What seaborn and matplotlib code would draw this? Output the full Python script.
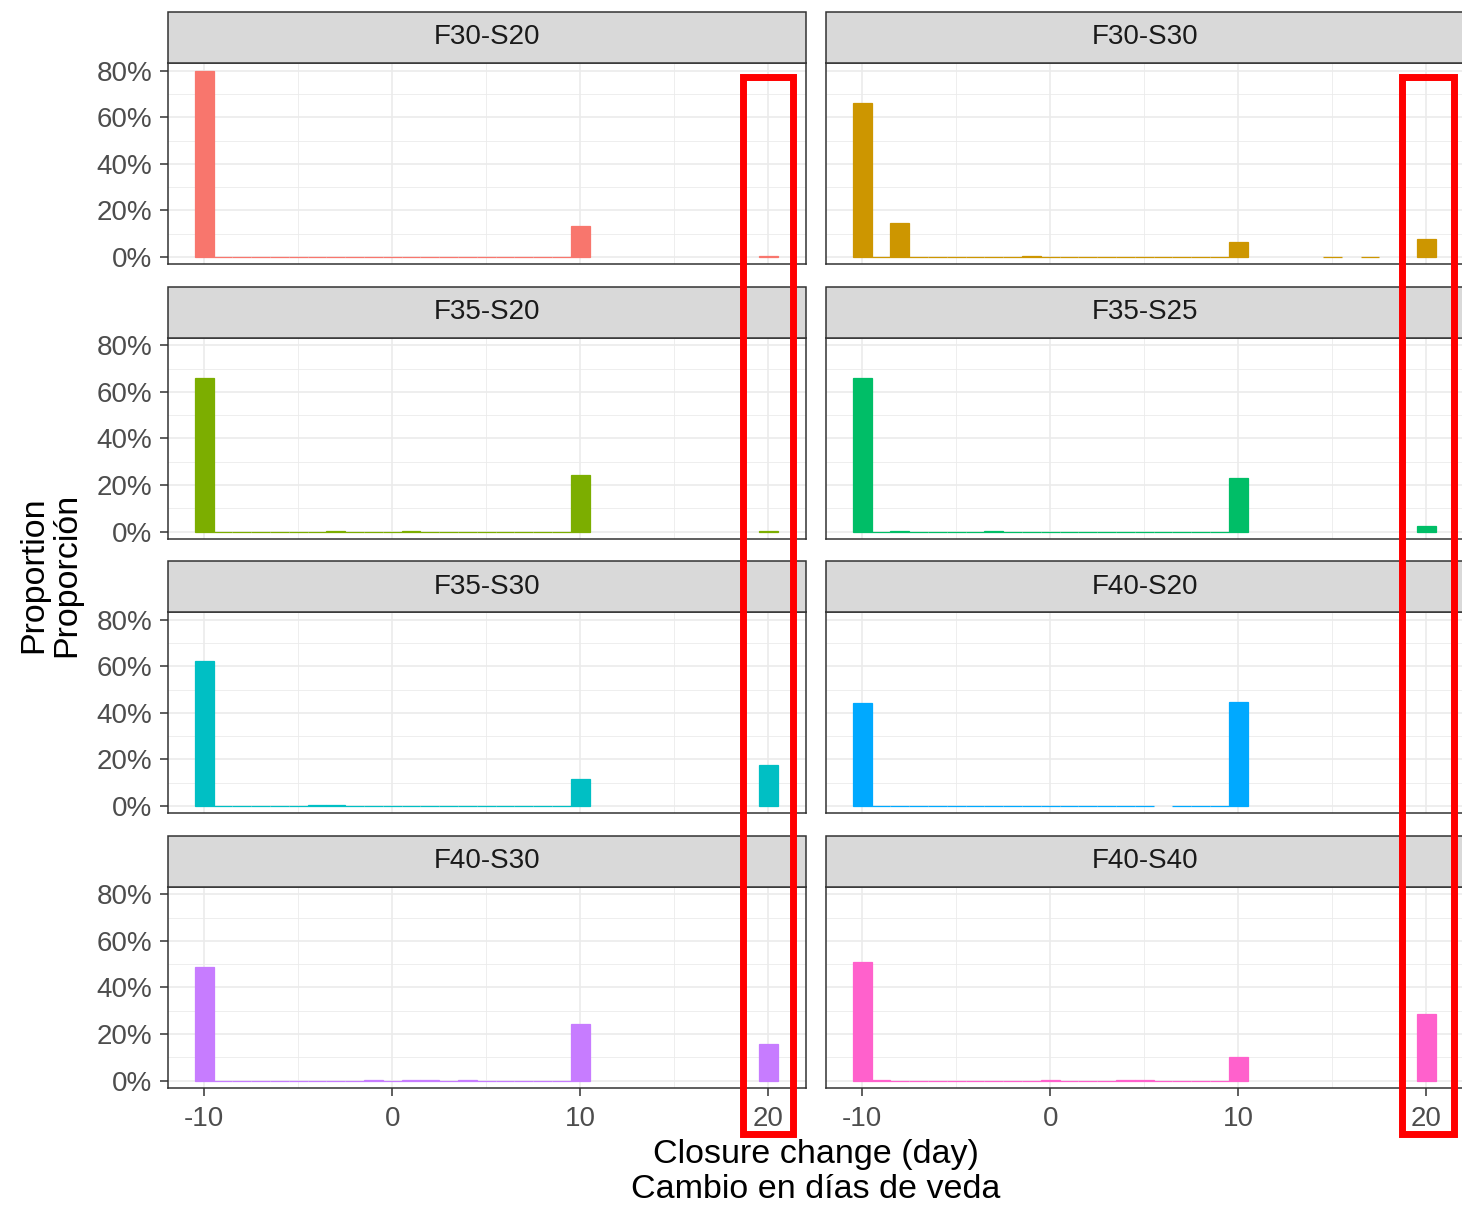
import numpy as np
import pandas as pd
import matplotlib
matplotlib.use("Agg")
import matplotlib.pyplot as plt
from matplotlib.patches import Rectangle
from matplotlib.ticker import FuncFormatter
import seaborn as sns

# ---------------------------------------------------------------------------
# Data: proportion (%) of simulations per closure change (days), by scenario
# ---------------------------------------------------------------------------
SCENARIOS = ["F30-S20", "F30-S30", "F35-S20", "F35-S25",
             "F35-S30", "F40-S20", "F40-S30", "F40-S40"]
COLORS = ["#F8766D", "#CD9600", "#7CAE00", "#00BE67",
          "#00BFC4", "#00A9FF", "#C77CFF", "#FF61CC"]

# bins that are present (possibly empty) in every scenario
SHARED_DAYS = list(range(-10, 11))

F30_S20_DAY = [-10, 10, 20]
F30_S20_PCT = [80.0, 13.3, 0.3]

F30_S30_DAY = [-10, -8, -1, 10, 15, 17, 20]
F30_S30_PCT = [66.2, 14.6, 0.3, 6.4, 0.1, 0.1, 7.9]

F35_S20_DAY = [-10, -3, 1, 10, 20]
F35_S20_PCT = [66.2, 0.2, 0.1, 24.5, 0.2]

F35_S25_DAY = [-10, -8, -3, 10, 20]
F35_S25_PCT = [66.2, 0.2, 0.2, 22.8, 2.2]

F35_S30_DAY = [-10, -4, -3, 10, 20]
F35_S30_PCT = [62.4, 0.3, 0.3, 11.6, 17.6]

F40_S20_DAY = [-10, 6, 10]
F40_S20_PCT = [44.3, np.nan, 44.5]

F40_S30_DAY = [-10, -1, 1, 2, 4, 10, 20]
F40_S30_PCT = [49.0, 0.2, 0.2, 0.2, 0.2, 24.1, 15.9]

F40_S40_DAY = [-10, -9, 0, 4, 5, 10, 20]
F40_S40_PCT = [50.8, 0.2, 0.2, 0.2, 0.2, 10.3, 28.8]

DAYS = [F30_S20_DAY, F30_S30_DAY, F35_S20_DAY, F35_S25_DAY,
        F35_S30_DAY, F40_S20_DAY, F40_S30_DAY, F40_S40_DAY]
PCTS = [F30_S20_PCT, F30_S30_PCT, F35_S20_PCT, F35_S25_PCT,
        F35_S30_PCT, F40_S20_PCT, F40_S30_PCT, F40_S40_PCT]

rows = []
for name, days, pcts in zip(SCENARIOS, DAYS, PCTS):
    values = {d: 0.0 for d in SHARED_DAYS}
    values.update(dict(zip(days, pcts)))
    for d in sorted(values):
        if not np.isnan(values[d]):
            rows.append({"scenario": name, "day": d, "pct": values[d]})
df = pd.DataFrame(rows)

# ---------------------------------------------------------------------------
# Styling
# ---------------------------------------------------------------------------
sns.set_style("white")
plt.rcParams["font.family"] = ["Liberation Sans", "DejaVu Sans"]
plt.rcParams["axes.unicode_minus"] = False

W, H = 1462, 1205
fig = plt.figure(figsize=(W / 100, H / 100), dpi=100)

PANEL_W, PANEL_H = 638, 201
COL_X = [168, 826]
ROW_TOP = [63 + i * 274.5 for i in range(4)]
STRIP_H = 51

BORDER = "#333333"
TICK_LABEL = "#4D4D4D"
GRID = "#EBEBEB"


def pct_fmt(v, _):
    return f"{int(round(v))}%"


for i, (name, color) in enumerate(zip(SCENARIOS, COLORS)):
    r, c = divmod(i, 2)
    x0 = COL_X[c]
    top = ROW_TOP[r]
    ax = fig.add_axes([x0 / W, 1 - (top + PANEL_H) / H, PANEL_W / W, PANEL_H / H])
    sub = df[df["scenario"] == name]
    sns.barplot(data=sub, x="day", y="pct", native_scale=True, width=1.0,
                color=color, saturation=1, edgecolor=color, linewidth=0.9,
                errorbar=None, ax=ax)

    ax.set_xlim(-11.92, 22.0)
    ax.set_ylim(-3.0, 83.4)
    ax.set_xticks([-10, 0, 10, 20])
    ax.set_xticks([-5, 5, 15], minor=True)
    ax.set_yticks([0, 20, 40, 60, 80])
    ax.set_yticks([10, 30, 50, 70], minor=True)
    ax.yaxis.set_major_formatter(FuncFormatter(pct_fmt))
    ax.set_axisbelow(True)
    ax.grid(which="major", color=GRID, linewidth=1.2)
    ax.grid(which="minor", color=GRID, linewidth=0.6)
    ax.set_xlabel("")
    ax.set_ylabel("")
    for sp in ax.spines.values():
        sp.set_visible(True)
        sp.set_color(BORDER)
        sp.set_linewidth(1.1)

    ax.tick_params(axis="both", which="major", length=5.5, width=1.1,
                   color=BORDER, labelcolor=TICK_LABEL, labelsize=20)
    ax.tick_params(axis="y", which="major", pad=6)
    ax.tick_params(axis="x", which="major", pad=7.5)
    ax.tick_params(axis="both", which="minor", length=0)
    ax.tick_params(axis="y", left=(c == 0), labelleft=(c == 0))
    ax.tick_params(axis="x", bottom=(r == 3), labelbottom=(r == 3))

    # facet strip
    ax.add_patch(Rectangle((0, 1), 1, STRIP_H / PANEL_H, transform=ax.transAxes,
                           facecolor="#D9D9D9", edgecolor=BORDER, linewidth=1.1,
                           clip_on=False, zorder=3))
    ax.text(0.5, 1 + STRIP_H / PANEL_H / 2, name, transform=ax.transAxes,
            ha="center", va="center", fontsize=20, color="#1A1A1A", zorder=4)

# axis titles
fig.text(816 / W, 1 - 1172 / H, "Closure change (day)\nCambio en días de veda",
         ha="center", va="center", fontsize=24.5, color="black", linespacing=1.15)
fig.text(50 / W, 1 - 575 / H, "Proportion\nProporción", rotation=90,
         ha="center", va="center", fontsize=24.5, color="black", linespacing=1.1)

# highlight boxes around the +20 day column
for (left, right) in [(742.5, 793.5), (1402.0, 1454.0)]:
    fig.patches.append(Rectangle((left / W, 1 - 1133.5 / H), (right - left) / W,
                                 (1133.5 - 76.5) / H, transform=fig.transFigure,
                                 fill=False, edgecolor="#FF0000", linewidth=5,
                                 zorder=10))

fig.savefig("out.png", dpi=100)
